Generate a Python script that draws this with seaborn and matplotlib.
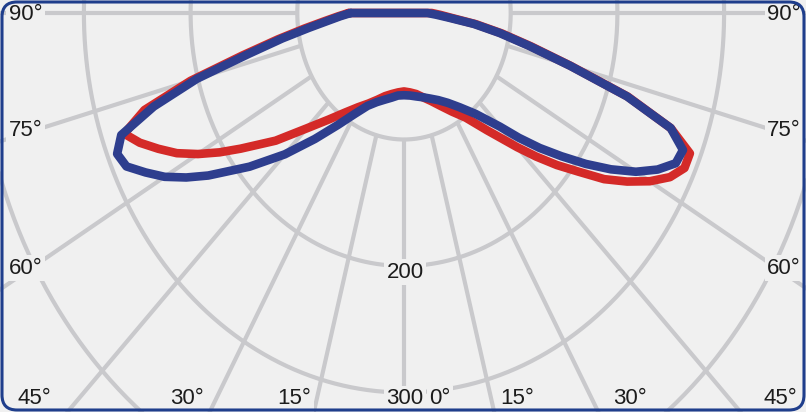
import numpy as np
import pandas as pd
import matplotlib
matplotlib.use("Agg")
import matplotlib.pyplot as plt
import seaborn as sns
from matplotlib.patches import FancyBboxPatch
from matplotlib.transforms import IdentityTransform


# gamma angles (deg, 0 = straight down, negative = left half)
ANGLES = [-90, -87.5, -85, -82.5, -80, -77.5, -75, -72.5, -70, -67.5, -65, -62.5,
          -60, -57.5, -55, -50, -45, -40, -35, -30, -25, -20, -15, -10, -5,
          0, 5, 10, 15, 20, 25, 30, 35, 40, 45, 47.5, 50, 52.5, 55, 57.5, 60,
          62.5, 65, 67.5, 70, 72.5, 75, 77.5, 80, 82.5, 85, 87.5, 90]

# luminous intensity
RED_CD = [52, 62, 75, 94, 120, 155, 207, 255, 279, 268, 254, 240,
          223, 205, 187, 157, 129, 110, 96, 86, 79, 73, 68, 65, 63,
          62, 63, 65, 69, 74, 81, 90, 101, 121, 150, 168, 187, 206, 229, 248, 266,
          281, 290, 290, 266, 220, 162, 122, 93, 68, 45, 34, 26]

BLUE_CD = [50, 60, 72, 90, 116, 149, 201, 246, 282, 291, 287, 273,
           259, 242, 224, 189, 158, 130, 108, 92, 81, 75, 71, 68, 65.5,
           65, 65.5, 67, 69, 72, 76, 82, 91, 104, 127, 146, 166, 186, 208, 230, 251,
           268, 281, 283, 266, 219, 161, 120, 91, 66, 42, 30, 22]

RINGS = [100, 200, 300, 400]
SPOKES = list(range(-90, 91, 15))

SIDE_LABELS = ["90°", "75°", "60°"]
BOTTOM_LABELS = ["45°", "30°", "15°", "300", "0°", "15°", "30°", "45°"]
RING_LABEL = "200"

BG = "#f0f0f0"
GRID = "#c9c9cc"
RED = "#d42a28"
BLUE = "#2e3e8e"
FRAME = "#1f3e8c"

W, H = 806, 412
CX, CY = 404, 13          # pole position in pixels
SX, SY = 1.067, 1.265      # pixels per cd unit (horizontal / vertical)


def to_xy(angles, values):
    th = np.deg2rad(np.asarray(angles, dtype=float))
    r = np.asarray(values, dtype=float)
    x = r * np.sin(th)
    y = -r * np.cos(th)
    # close the loop through the top
    return np.append(x, x[0]), np.append(y, y[0])


rows = []
for name, vals in [("red", RED_CD), ("blue", BLUE_CD)]:
    x, y = to_xy(ANGLES, vals)
    rows.append(pd.DataFrame({"x": x, "y": y, "series": name}))
df = pd.concat(rows, ignore_index=True)

sns.set_theme(style="white")
plt.rcParams["font.family"] = ["Liberation Sans", "DejaVu Sans"]

fig = plt.figure(figsize=(W / 100, H / 100), dpi=100)
fig.patch.set_facecolor(BG)
ax = fig.add_axes([0, 0, 1, 1])
ax.set_facecolor(BG)

# polar grid
t = np.linspace(0, 2 * np.pi, 721)
for r in RINGS:
    ax.plot(r * np.sin(t), r * np.cos(t), color=GRID, lw=3, zorder=1)
for a in SPOKES:
    th = np.deg2rad(a)
    ax.plot([100 * np.sin(th), 700 * np.sin(th)],
            [-100 * np.cos(th), -700 * np.cos(th)],
            color=GRID, lw=3, zorder=1, solid_capstyle="butt")

sns.lineplot(data=df, x="x", y="y", hue="series", palette={"red": RED, "blue": BLUE},
             sort=False, estimator=None, legend=False, linewidth=6.2, ax=ax,
             solid_joinstyle="round", solid_capstyle="round", zorder=3)

ax.set_xlim(-CX / SX, (W - CX) / SX)
ax.set_ylim(-(H - CY) / SY, CY / SY)
ax.axis("off")

# labels (pixel positions measured on the reference)
box = dict(boxstyle="square,pad=0.12", fc=BG, ec="none")
txt = dict(fontsize=16, color="#1c1c1c", va="center", transform=ax.transAxes,
           bbox=box, zorder=2)

for lab, py in zip(SIDE_LABELS, [15, 131, 268]):
    ax.text(9 / W, 1 - py / H, lab, ha="left", **txt)
    ax.text(801 / W, 1 - py / H, lab, ha="right", **txt)

bottom_x = [34, 187, 294, 405, 440, 517, 630, 780]
for lab, px in zip(BOTTOM_LABELS, bottom_x):
    ax.text(px / W, 1 - 399 / H, lab, ha="center", **txt)

ax.text(405 / W, 1 - 272 / H, RING_LABEL, ha="center", **txt)

frame = FancyBboxPatch((2, 2), W - 4, H - 4,
                       boxstyle="round,pad=0,rounding_size=15",
                       transform=IdentityTransform(), fill=False,
                       edgecolor=FRAME, linewidth=2.2)
fig.add_artist(frame)

fig.savefig("out.png", dpi=100, facecolor=BG)
plt.close(fig)
